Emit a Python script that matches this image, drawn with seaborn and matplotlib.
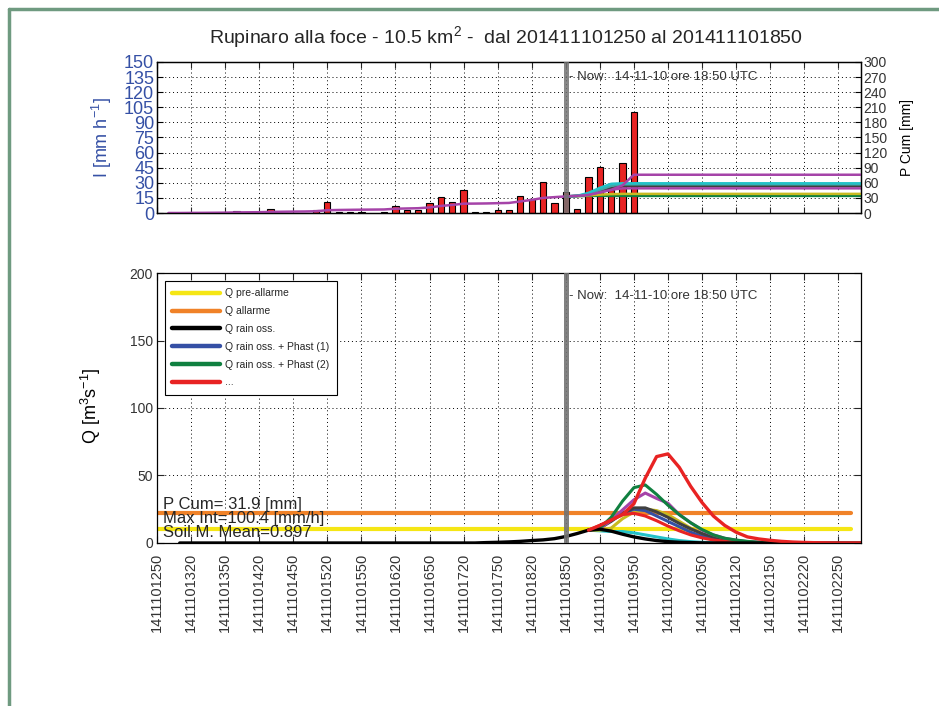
import numpy as np
import matplotlib
matplotlib.use('Agg')
import matplotlib.pyplot as plt
import seaborn as sns
from matplotlib.lines import Line2D

sns.set_style('ticks')
plt.rcParams['font.family'] = ['Liberation Sans', 'DejaVu Sans']
plt.rcParams['mathtext.default'] = 'regular'

# --- data -------------------------------------------------------------
# time in minutes after 2014-11-10 12:50
tick_minutes = list(range(0, 601, 30))
tick_labels = ['1411101250', '1411101320', '1411101350', '1411101420', '1411101450',
               '1411101520', '1411101550', '1411101620', '1411101650', '1411101720',
               '1411101750', '1411101820', '1411101850', '1411101920', '1411101950',
               '1411102020', '1411102050', '1411102120', '1411102150', '1411102220',
               '1411102250']
now_minute = 360

# rain intensity bars [mm/h] (10 min steps)
rain_times = [70, 100, 140, 150, 160, 170, 180, 200, 210, 220, 230, 240, 250, 260, 270,
              280, 290, 300, 310, 320, 330, 340, 350, 360, 370, 380, 390, 400, 410, 420]
rain_int = [2, 4, 3, 11, 1, 1, 1, 1, 7, 3, 3, 10, 16, 11, 23,
            1, 1, 3, 3, 17, 14, 31, 10, 21, 4, 36, 46, 23, 50, 100.4]

# cumulative rain [mm]
pcum_times = [10, 20, 30, 40, 50, 60, 70, 80, 90, 100, 110, 120, 130, 140, 150, 160, 170,
              180, 190, 200, 210, 220, 230, 240, 250, 260, 270, 280, 290, 300, 310, 320,
              330, 340, 350, 360, 370, 380, 390, 400, 410, 420, 620]
pcum_obs = [0, 0, 0.2, 0.3, 0.5, 0.7, 1.2, 1.4, 1.6, 2.2, 2.5, 2.8, 3, 3.5, 5.5, 6, 6.3,
            6.6, 6.8, 7, 8.5, 9, 9.5, 11, 14, 16, 18.5, 18.7, 19, 19.5, 20, 23,
            26, 30, 31.5, 33, 34, 36, 41, 46, 55, 76, 76]
fc_times = [360, 370, 380, 390, 400, 410, 620]
pcum_cyan = [33, 34, 40, 50, 58, 59, 59]
pcum_teal = [33, 34, 38, 46, 54, 57, 57]
pcum_gray = [33, 34, 37, 44, 50, 54, 54]
pcum_magenta = [33, 34, 36, 41, 46, 49, 49]
pcum_olive = [33, 33.5, 35, 36.5, 37.5, 38, 38]
pcum_green = [33, 33.5, 34, 34, 34, 34, 34]

# discharge [m3/s]
q_pre_allarme = 10.5
q_allarme = 22
thr_times = [0, 611]
obs_times = [20, 280, 290, 300, 310, 320, 330, 340, 350, 360, 370, 380, 390, 400, 410,
             420, 430, 440, 450, 460, 470, 480, 490, 620]
q_obs = [0, 0, 0.3, 0.5, 0.8, 1.2, 1.8, 2.3, 3.2, 4.8, 7, 9.5, 10.2, 8.8, 6.5,
         4.5, 3, 1.8, 1, 0.5, 0.3, 0.1, 0, 0]
ens_times = [380, 390, 400, 410, 420, 430, 440, 450, 460, 470, 480, 490, 500, 510,
             520, 530, 540]
q_cyan = [9.5, 9, 8.5, 8.5, 7.5, 6, 4.5, 3, 1.8, 1, 0.5, 0.2, 0, 0, 0, 0, 0]
q_olive = [9.5, 9.5, 11, 18, 23, 25, 24, 21, 16, 11, 7, 4, 2.2, 1, 0.5, 0.2, 0]
q_blue = [9.5, 12, 17, 22, 25, 24, 20, 16, 12, 8, 5, 3, 1.7, 0.9, 0.4, 0.2, 0]
q_gray = [9.5, 11, 16, 22, 26, 26, 23, 19, 14.5, 10.5, 7, 4.5, 2.5, 1.4, 0.7, 0.3, 0.1]
q_purple = [9.5, 10.5, 17, 24.5, 32, 37, 33, 29.5, 21, 15, 9.5, 6, 3.5, 2, 1, 0.5, 0.2]
q_red_small = [9.5, 13, 17, 21, 22, 20, 16.5, 12.5, 9, 6, 3.8, 2.2, 1.2, 0.6, 0.3, 0.1, 0]
q_green = [9.5, 11, 19, 31, 41, 43, 36, 28, 21, 15, 10, 6, 3.5, 2.2, 1.2, 0.6, 0.3]
red_times = [380, 390, 400, 410, 420, 430, 440, 450, 460, 470, 480, 490, 500, 510,
             520, 530, 540, 550, 560, 570, 580, 590, 600, 610, 620]
q_red = [9.5, 13, 17, 21, 29, 48, 64, 66, 56, 42, 30, 20, 13, 8, 4.5, 3, 2, 1.2, 0.7,
         0.4, 0.2, 0.1, 0, 0, 0]

BLUE = '#3550a5'
RED = '#e82323'
GREEN = '#108040'
PURPLE = '#a543a8'
GRAY = '#404040'
OLIVE = '#c8ba20'
CYAN = '#22c2c8'
TEAL = '#40a8a8'
YELLOW = '#f5e614'
ORANGE = '#f08228'
NOW_C = '#737373'

fig = plt.figure(figsize=(9.39, 7.06), dpi=100)
ax1 = fig.add_axes([0.1672, 0.6983, 0.7497, 0.2139])
ax1r = ax1.twinx()
ax2 = fig.add_axes([0.1672, 0.2309, 0.7497, 0.3824])

grid_kw = dict(linestyle=(0, (1, 3)), color='black', linewidth=0.7)

# --- upper panel: rain -------------------------------------------------
sns.barplot(x=rain_times, y=rain_int, native_scale=True, orient='x', width=0.55,
            color=RED, saturation=1, edgecolor='black', linewidth=0.8,
            errorbar=None, ax=ax1)
ax1.set_xlim(0, 620)
ax1.set_ylim(0, 150)
ax1.set_yticks(range(0, 151, 15))
ax1.set_xticks(tick_minutes)
ax1.set_xticklabels([])
ax1.set_xlabel('')
ax1.grid(True, **grid_kw)
ax1.tick_params(axis='y', direction='in', colors='black', labelcolor=BLUE, labelsize=13,
                length=4, pad=2)
ax1.tick_params(axis='x', direction='in', top=True, length=4)
ax1.set_ylabel('I [mm h$^{-1}$]', color=BLUE, fontsize=13)
ax1.yaxis.set_label_coords(-0.061, 0.5)

for vals, col in [(pcum_green, GREEN), (pcum_olive, OLIVE), (pcum_magenta, PURPLE),
                  (pcum_gray, GRAY), (pcum_teal, TEAL), (pcum_cyan, CYAN)]:
    sns.lineplot(x=fc_times, y=vals, color=col, lw=1.8, ax=ax1r)
sns.lineplot(x=pcum_times, y=pcum_obs, color=PURPLE, lw=1.8, ax=ax1r)
ax1r.axvline(now_minute, color=NOW_C, lw=3.6, alpha=0.85, zorder=10)
ax1r.set_ylim(0, 300)
ax1r.set_yticks(range(0, 301, 30))
ax1r.tick_params(axis='y', direction='in', colors='black', labelcolor='#333333',
                 labelsize=10, length=4, pad=2)
ax1r.set_ylabel('P Cum [mm]', fontsize=10, color='black')
ax1r.yaxis.set_label_coords(1.055, 0.5)
ax1r.text(363, 271, '- Now:  14-11-10 ore 18:50 UTC', fontsize=9.5, color='#333333',
          va='center', ha='left', zorder=11)

# --- lower panel: discharge ----------------------------------------------
sns.lineplot(x=thr_times, y=[q_pre_allarme] * 2, color=YELLOW, lw=3, ax=ax2)
sns.lineplot(x=thr_times, y=[q_allarme] * 2, color=ORANGE, lw=3, ax=ax2)
for vals, col in [(q_cyan, CYAN), (q_olive, OLIVE), (q_blue, BLUE), (q_gray, GRAY),
                  (q_purple, PURPLE), (q_red_small, RED), (q_green, GREEN)]:
    sns.lineplot(x=ens_times, y=vals, color=col, lw=2.2, ax=ax2)
sns.lineplot(x=obs_times, y=q_obs, color='black', lw=2.4, ax=ax2)
sns.lineplot(x=red_times, y=q_red, color=RED, lw=2.4, ax=ax2)
ax2.axvline(now_minute, color=NOW_C, lw=3.6, alpha=0.9, zorder=10)

ax2.set_xlim(0, 620)
ax2.set_ylim(0, 200)
ax2.set_yticks(range(0, 201, 50))
ax2.set_xticks(tick_minutes)
ax2.set_xticklabels(tick_labels, rotation=90, fontsize=10.5, color='#333333')
ax2.grid(True, **grid_kw)
ax2.tick_params(axis='both', direction='in', top=True, right=True, length=5)
ax2.tick_params(axis='y', labelsize=10, labelcolor='#333333', pad=3)
ax2.tick_params(axis='x', pad=7)
ax2.set_ylabel('Q [m$^3$s$^{-1}$]', fontsize=13, color='black')
ax2.yaxis.set_label_coords(-0.077, 0.51)
ax2.text(363, 183, '- Now:  14-11-10 ore 18:50 UTC', fontsize=9.5, color='#333333',
         va='center', ha='left', zorder=11)

ax2.text(0.0085, 0.125, 'P Cum= 31.9 [mm]', transform=ax2.transAxes, fontsize=12,
         va='baseline', zorder=12)
ax2.text(0.0085, 0.075, 'Max Int=100.4 [mm/h]', transform=ax2.transAxes, fontsize=12,
         va='baseline', zorder=12)
ax2.text(0.0085, 0.023, 'Soil M. Mean=0.897', transform=ax2.transAxes, fontsize=12,
         va='baseline', zorder=12)

handles = [Line2D([], [], color=YELLOW, lw=3.2),
           Line2D([], [], color=ORANGE, lw=3.2),
           Line2D([], [], color='black', lw=3.2),
           Line2D([], [], color=BLUE, lw=3.2),
           Line2D([], [], color=GREEN, lw=3.2),
           Line2D([], [], color=RED, lw=3.2)]
labels = ['Q pre-allarme', 'Q allarme', 'Q rain oss.', 'Q rain oss. + Phast (1)',
          'Q rain oss. + Phast (2)', '...']
leg = ax2.legend(handles, labels, loc='upper left', bbox_to_anchor=(0.011, 0.97),
                 fontsize=7.5, frameon=True, fancybox=False, framealpha=1,
                 edgecolor='black', handlelength=4.6, labelspacing=0.75,
                 borderpad=0.7, handletextpad=0.5, borderaxespad=0)
leg.get_frame().set_linewidth(0.8)
leg.set_zorder(20)

for ax in (ax1, ax1r, ax2):
    for sp in ax.spines.values():
        sp.set_color('black')
        sp.set_linewidth(0.9)

fig.text(0.539, 0.947, 'Rupinaro alla foce - 10.5 km$^2$ -  dal 201411101250 al 201411101850',
         ha='center', va='center', fontsize=14)

# green-grey page frame
fig.add_artist(Line2D([0.0096, 0.0096], [0.0, 0.9873], transform=fig.transFigure,
                      color='#6f9a80', lw=2.5))
fig.add_artist(Line2D([0.0096, 1.0], [0.9873, 0.9873], transform=fig.transFigure,
                      color='#6f9a80', lw=2.5))

fig.savefig('out.png', dpi=100)
